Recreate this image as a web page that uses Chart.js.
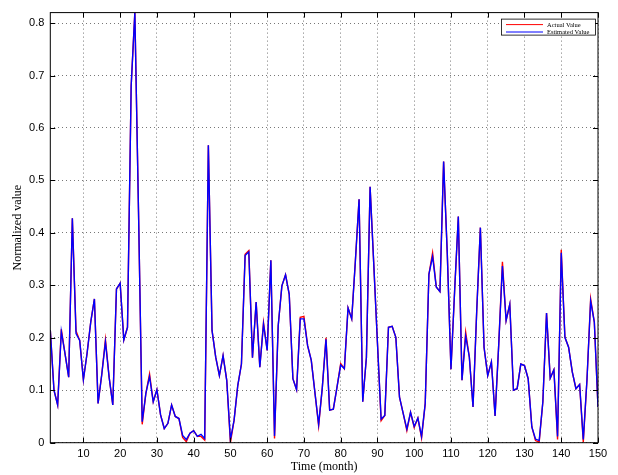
<!DOCTYPE html>
<html>
<head>
<meta charset="utf-8">
<script src="https://cdn.jsdelivr.net/npm/chart.js@4.4.1/dist/chart.umd.min.js"></script>
<style>
  html, body { margin: 0; padding: 0; background: #fff; }
  #c { display: block; }
</style>
</head>
<body>
<canvas id="c" width="618" height="475"></canvas>
<script>
// Months 1..150
const months = Array.from({ length: 150 }, (_, i) => i + 1);

const seriesNames = ['Actual Value', 'Estimated Value'];

const actualValues = [
  0.215,0.100,0.072,0.216,0.170,0.125,0.428,0.213,0.195,0.120,
  0.170,0.230,0.274,0.075,0.130,0.197,0.125,0.072,0.293,0.304,
  0.196,0.220,0.680,0.820,0.440,0.035,0.094,0.131,0.078,0.101,
  0.053,0.027,0.037,0.072,0.050,0.046,0.010,0.002,0.018,0.023,
  0.012,0.012,0.005,0.567,0.214,0.163,0.128,0.166,0.119,0.000,
  0.043,0.109,0.150,0.359,0.366,0.162,0.268,0.144,0.229,0.176,
  0.348,0.008,0.223,0.299,0.320,0.283,0.122,0.101,0.239,0.241,
  0.185,0.157,0.095,0.032,0.105,0.200,0.062,0.064,0.106,0.151,
  0.141,0.257,0.236,0.347,0.464,0.078,0.163,0.488,0.340,0.190,
  0.042,0.052,0.220,0.222,0.201,0.087,0.056,0.023,0.058,0.029,
  0.047,0.009,0.075,0.321,0.362,0.297,0.288,0.536,0.360,0.140,
  0.290,0.431,0.119,0.211,0.163,0.068,0.250,0.410,0.182,0.128,
  0.154,0.051,0.188,0.345,0.233,0.264,0.100,0.103,0.150,0.147,
  0.122,0.030,0.004,0.001,0.078,0.247,0.123,0.139,0.006,0.368,
  0.201,0.182,0.135,0.103,0.111,0.001,0.120,0.274,0.230,0.068
];

const estimatedValues = [
  0.215,0.100,0.072,0.212,0.170,0.125,0.428,0.208,0.195,0.120,
  0.170,0.230,0.274,0.075,0.130,0.192,0.125,0.072,0.293,0.304,
  0.196,0.220,0.680,0.820,0.440,0.040,0.094,0.126,0.078,0.101,
  0.053,0.027,0.037,0.072,0.050,0.046,0.014,0.006,0.018,0.023,
  0.012,0.016,0.008,0.567,0.214,0.163,0.128,0.166,0.119,0.006,
  0.043,0.109,0.150,0.357,0.364,0.162,0.268,0.144,0.226,0.176,
  0.348,0.013,0.223,0.299,0.320,0.283,0.122,0.101,0.236,0.236,
  0.185,0.157,0.095,0.035,0.105,0.197,0.062,0.064,0.106,0.148,
  0.141,0.257,0.236,0.347,0.464,0.078,0.163,0.488,0.340,0.190,
  0.045,0.052,0.220,0.222,0.201,0.087,0.056,0.026,0.058,0.031,
  0.047,0.012,0.075,0.321,0.355,0.297,0.288,0.536,0.360,0.140,
  0.290,0.431,0.119,0.203,0.163,0.068,0.250,0.410,0.182,0.128,
  0.154,0.051,0.188,0.337,0.233,0.264,0.100,0.103,0.150,0.147,
  0.122,0.030,0.007,0.004,0.078,0.247,0.123,0.139,0.012,0.362,
  0.201,0.182,0.135,0.103,0.111,0.006,0.120,0.270,0.230,0.068
];

const xTicks = [10,20,30,40,50,60,70,80,90,100,110,120,130,140,150];
const yTicks = [0,0.1,0.2,0.3,0.4,0.5,0.6,0.7,0.8];
const xTitle = 'Time (month)';
const yTitle = 'Normalized value';

const tickFont = { family: '"Liberation Sans", Arial, Helvetica, sans-serif', size: 11 };
const titleFont = { family: '"Liberation Serif", "Times New Roman", serif', size: 12 };

const framePlugin = {
  id: 'matlabFrame',
  afterDraw(chart) {
    const ctx = chart.ctx;
    const { left, right, top, bottom } = chart.chartArea;
    const xs = chart.scales.x, ys = chart.scales.y;
    ctx.save();
    ctx.strokeStyle = '#000';
    ctx.lineWidth = 1;
    ctx.strokeRect(left, top, right - left, bottom - top);
    const tl = 5;
    ctx.beginPath();
    xTicks.forEach(v => {
      const px = Math.round(xs.getPixelForValue(v)) + 0.5;
      ctx.moveTo(px, bottom); ctx.lineTo(px, bottom - tl);
      ctx.moveTo(px, top); ctx.lineTo(px, top + tl);
    });
    yTicks.forEach(v => {
      const py = Math.round(ys.getPixelForValue(v)) + 0.5;
      ctx.moveTo(left, py); ctx.lineTo(left + tl, py);
      ctx.moveTo(right, py); ctx.lineTo(right - tl, py);
    });
    ctx.stroke();

    // legend box (top-right, inside axes)
    const bx = right - 97, by = top + 6, bw = 94, bh = 16;
    ctx.fillStyle = '#fff';
    ctx.fillRect(bx, by, bw, bh);
    ctx.lineWidth = 0.8;
    ctx.strokeStyle = '#000';
    ctx.strokeRect(bx + 0.5, by + 0.5, bw, bh);
    ctx.font = '6.5px "Liberation Serif", "Times New Roman", serif';
    ctx.textBaseline = 'middle';
    ctx.textAlign = 'left';
    chart.data.datasets.forEach((ds, i) => {
      const ly = by + 6 + i * 7.4;
      ctx.strokeStyle = ds.borderColor;
      ctx.lineWidth = 1;
      ctx.beginPath();
      ctx.moveTo(bx + 5, ly);
      ctx.lineTo(bx + 42, ly);
      ctx.stroke();
      ctx.fillStyle = '#000';
      ctx.fillText(ds.label, bx + 46, ly + 0.3);
    });
    ctx.restore();
  }
};

new Chart(document.getElementById('c'), {
  type: 'line',
  data: {
    labels: months,
    datasets: [
      {
        label: seriesNames[0],
        data: actualValues,
        borderColor: '#ff0000',
        backgroundColor: '#ff0000',
        borderWidth: 1.4,
        pointRadius: 0,
        tension: 0,
        order: 2
      },
      {
        label: seriesNames[1],
        data: estimatedValues,
        borderColor: '#0000ff',
        backgroundColor: '#0000ff',
        borderWidth: 1.4,
        pointRadius: 0,
        tension: 0,
        order: 1
      }
    ]
  },
  options: {
    responsive: false,
    animation: false,
    devicePixelRatio: 1,
    layout: { padding: { left: 0, top: 11.3, right: 20, bottom: 0 } },
    plugins: {
      legend: { display: false },
      tooltip: { enabled: false }
    },
    scales: {
      x: {
        type: 'linear',
        min: 1,
        max: 150,
        afterBuildTicks: s => { s.ticks = xTicks.map(v => ({ value: v })); },
        afterFit: s => { s.height = 32.3; },
        ticks: { font: tickFont, color: '#000', padding: 5, maxRotation: 0, autoSkip: false },
        grid: { color: '#777', lineWidth: 1, drawTicks: false },
        border: { display: false, dash: [1, 3] },
        title: { display: true, text: xTitle, font: titleFont, color: '#000', padding: { top: 0, bottom: 1 } }
      },
      y: {
        min: 0,
        max: 0.82,
        afterBuildTicks: s => { s.ticks = yTicks.map(v => ({ value: v })); },
        afterFit: s => { s.width = 50.3; },
        ticks: { font: tickFont, color: '#000', padding: 6 },
        grid: { color: '#777', lineWidth: 1, drawTicks: false },
        border: { display: false, dash: [1, 3] },
        title: { display: true, text: yTitle, font: titleFont, color: '#000', padding: { top: 11, bottom: 0 } }
      }
    }
  },
  plugins: [framePlugin]
});
</script>
</body>
</html>
